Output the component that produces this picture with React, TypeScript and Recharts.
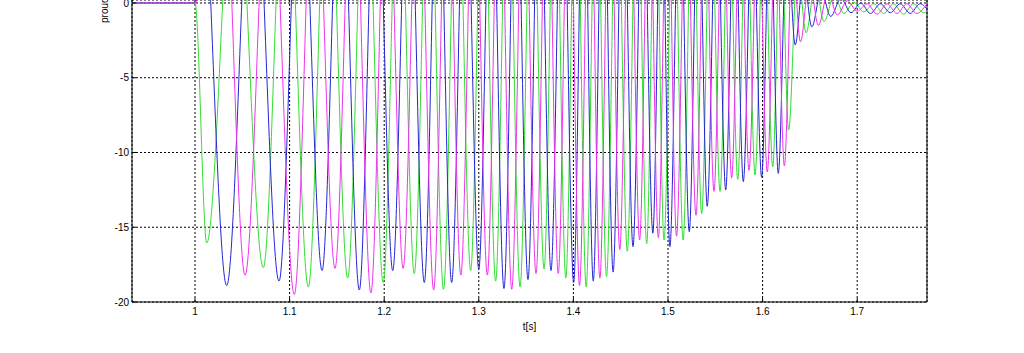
import { LineChart, Line, XAxis, YAxis, CartesianGrid, ReferenceLine } from "recharts";

const xTicks = [1, 1.1, 1.2, 1.3, 1.4, 1.5, 1.6, 1.7];
const yTicks = [0, -5, -10, -15, -20];
const tMin = 0.9334;
const tMax = 1.7738;

// [t, i] pairs. troughs are read off the plot, the peaks sit above the
// visible area so their heights are only guessed.
const phaseA: [number, number][] = [
  [0.93, 0], [1.0, 0], [1.0124, -16.05], [1.0423, 11], [1.0722, -17.7], [1.096, 12],
  [1.1198, -19.0], [1.1406, 12], [1.1614, -18.4], [1.1802, 12], [1.199, -18.7], [1.2154, 12],
  [1.2318, -18.1], [1.2473, 12], [1.2627, -19.15], [1.2771, 12], [1.2914, -17.9], [1.3046, 12],
  [1.3178, -18.6], [1.3307, 12], [1.3436, -19.0], [1.3563, 12], [1.369, -17.8], [1.3805, 12],
  [1.392, -18.4], [1.4028, 12], [1.4135, -19.0], [1.4243, 12], [1.435, -18.3], [1.446, 11],
  [1.457, -16.6], [1.4673, 10.5], [1.4775, -16.1], [1.4867, 10], [1.4958, -15.85], [1.5059, 10],
  [1.516, -15.85], [1.5258, 9.5], [1.5356, -14.1], [1.5453, 8.5], [1.555, -12.6], [1.5644, 8],
  [1.5737, -11.8], [1.5829, 7.5], [1.592, -11.5], [1.6014, 7], [1.6107, -10.95], [1.6191, 6],
  [1.6275, -8.5], [1.6368, 2.5], [1.646, -2.0], [1.6555, 1.2], [1.665, -1.25], [1.6755, 0.5],
  [1.686, -0.7], [1.6965, 0.05], [1.707, -0.6], [1.7175, -0.05], [1.728, -0.7], [1.7385, -0.05],
  [1.749, -0.75], [1.7595, -0.05], [1.77, -0.65], [1.78, -0.05],
];

const phaseB: [number, number][] = [
  [0.93, 0], [1.0, 0], [1.0042, 12], [1.0335, -18.9], [1.0612, 12], [1.0888, -18.6],
  [1.1116, 12], [1.1343, -17.9], [1.154, 12], [1.1737, -19.2], [1.1914, 12], [1.209, -17.9],
  [1.2257, 12], [1.2424, -18.7], [1.2569, 12], [1.2713, -18.7], [1.2857, 12], [1.3, -17.8],
  [1.3133, 12], [1.3266, -19.1], [1.3393, 12], [1.352, -18.5], [1.3642, 12], [1.3763, -17.9],
  [1.3883, 12], [1.4003, -18.7], [1.4107, 12], [1.421, -18.6], [1.4315, 12], [1.442, -18.0],
  [1.4525, 11], [1.463, -16.3], [1.4735, 10.5], [1.484, -15.4], [1.493, 10], [1.502, -16.3],
  [1.5123, 10], [1.5225, -15.3], [1.532, 9], [1.5415, -13.6], [1.5513, 8.5], [1.561, -12.5],
  [1.5703, 8], [1.5796, -11.95], [1.5893, 7.5], [1.599, -11.66], [1.6078, 7], [1.6166, -11.4],
  [1.6256, 5], [1.6345, -2.8], [1.6433, 1.8], [1.652, -1.6], [1.662, 0.8], [1.672, -0.9],
  [1.6828, 0.3], [1.6935, -0.65], [1.7038, 0], [1.714, -0.7], [1.7245, -0.05], [1.735, -0.65],
  [1.7455, -0.05], [1.756, -0.7], [1.7665, -0.05], [1.777, -0.7],
];

const phaseC: [number, number][] = [
  [0.93, 0], [1.0, 0], [1.0284, 12], [1.0529, -18.2], [1.079, 12], [1.105, -19.5],
  [1.1265, 12], [1.148, -17.75], [1.167, 12], [1.186, -19.4], [1.203, 12], [1.22, -17.75],
  [1.2362, 12], [1.2523, -19.2], [1.2667, 12], [1.281, -18.2], [1.295, 12], [1.309, -18.2],
  [1.3219, 12], [1.3348, -19.15], [1.3477, 12], [1.3605, -18.1], [1.3723, 12], [1.384, -18.1],
  [1.3953, 12], [1.4065, -18.9], [1.4173, 12], [1.428, -18.4], [1.4385, 11.5], [1.449, -16.5],
  [1.4595, 10.5], [1.47, -15.85], [1.4799, 10], [1.4898, -15.7], [1.4994, 10], [1.509, -15.6],
  [1.5193, 9.5], [1.5296, -14.2], [1.5391, 8.5], [1.5486, -12.6], [1.558, 8], [1.5673, -11.7],
  [1.5765, 7.5], [1.5856, -11.2], [1.5953, 7], [1.605, -11.3], [1.614, 6.5], [1.623, -10.9],
  [1.6315, 3.5], [1.64, -2.6], [1.6495, 1.5], [1.659, -1.5], [1.669, 0.7], [1.679, -0.8],
  [1.6895, 0.15], [1.7, -0.55], [1.7105, -0.05], [1.721, -0.75], [1.7315, -0.05], [1.742, -0.7],
  [1.7525, -0.05], [1.763, -0.7], [1.7735, -0.05],
];

const toRows = (pts: [number, number][]) => pts.map(([t, i]) => ({ t, i }));

const font = { fontFamily: "'Liberation Sans', Arial, sans-serif", fontSize: 10, fill: "#000" };

export default function App() {
  return (
    <div
      style={{
        position: "absolute",
        left: 0,
        top: 0,
        width: 1024,
        height: 353,
        background: "#fff",
        overflow: "hidden",
      }}
    >
      <LineChart width={1024} height={353} margin={{ top: 0, right: 97, bottom: 0, left: 0 }}>
        <CartesianGrid stroke="#000" strokeDasharray="2 2" />
        <XAxis
          dataKey="t"
          type="number"
          domain={[tMin, tMax]}
          ticks={xTicks}
          interval={0}
          allowDataOverflow
          height={51}
          tickSize={-4}
          tickMargin={10}
          tick={font}
          axisLine={{ stroke: "#000" }}
          tickLine={{ stroke: "#000" }}
          label={{
            value: "t[s]",
            position: "insideBottom",
            offset: 23,
            style: { ...font },
          }}
        />
        <YAxis
          type="number"
          domain={[-20, 0.2]}
          ticks={yTicks}
          interval={0}
          allowDataOverflow
          width={132}
          tickSize={-4}
          tickMargin={7}
          tick={font}
          axisLine={{ stroke: "#000" }}
          tickLine={{ stroke: "#000" }}
        />
        <ReferenceLine x={tMax} stroke="#000" />
        <Line
          data={toRows(phaseA)}
          dataKey="i"
          type="monotone"
          stroke="#33dd33"
          strokeWidth={1}
          dot={false}
          isAnimationActive={false}
        />
        <Line
          data={toRows(phaseB)}
          dataKey="i"
          type="monotone"
          stroke="#2525d5"
          strokeWidth={1}
          dot={false}
          isAnimationActive={false}
        />
        <Line
          data={toRows(phaseC)}
          dataKey="i"
          type="monotone"
          stroke="#ee33ee"
          strokeWidth={1}
          dot={false}
          isAnimationActive={false}
        />
      </LineChart>
      <div
        style={{
          position: "absolute",
          left: 100,
          top: 23,
          transform: "rotate(-90deg)",
          transformOrigin: "0 0",
          fontFamily: "'Liberation Sans', Arial, sans-serif",
          fontSize: 10,
          lineHeight: "10px",
          whiteSpace: "nowrap",
          color: "#000",
        }}
      >
        proudy [A]
      </div>
    </div>
  );
}
